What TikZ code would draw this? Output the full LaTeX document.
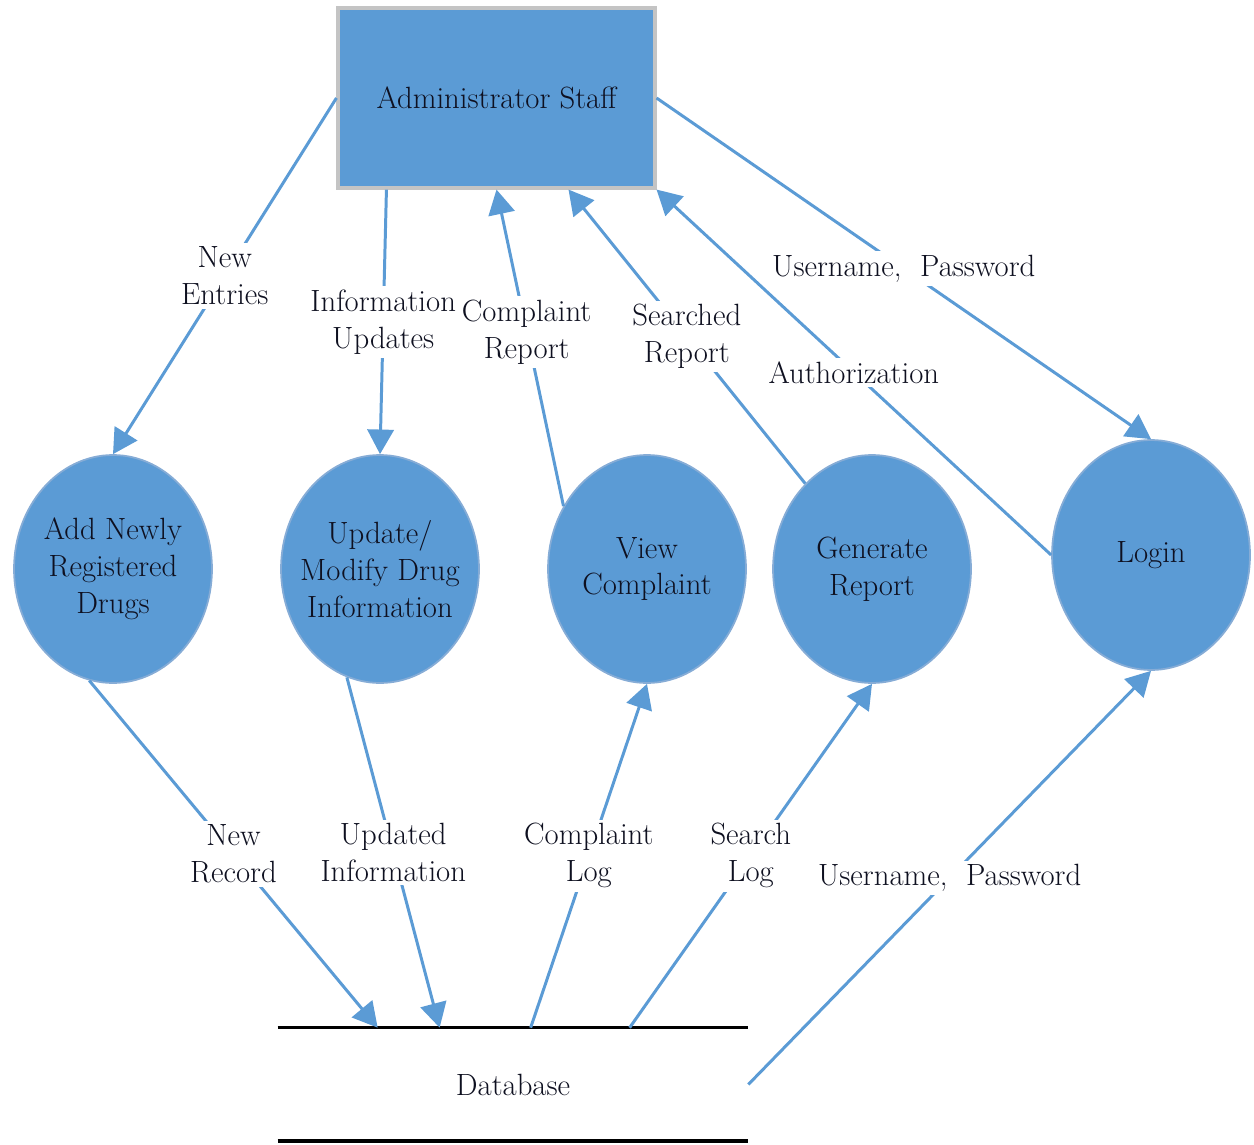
\documentclass[tikz,border=0pt]{standalone}
\usepackage{fontspec}
\usetikzlibrary{arrows.meta,calc,shapes.geometric}
\definecolor{procblue}{HTML}{5B9BD5}
\definecolor{procedge}{HTML}{86ACD6}
\definecolor{boxedge}{HTML}{C4C4C4}
\definecolor{inkdark}{HTML}{0E1020}
\begin{document}
\begin{tikzpicture}[x=0.02cm,y=-0.02cm,
  every node/.style={font=\fontsize{17.5}{21}\selectfont, text=inkdark},
  proc/.style={ellipse, fill=procblue, draw=procedge, line width=1pt,
    minimum width=3.96cm, minimum height=4.56cm, inner sep=-8pt, align=center},
  entity/.style={rectangle, fill=procblue, draw=boxedge, line width=1.8pt,
    minimum width=6.34cm, minimum height=3.6cm},
  flow/.style={draw=procblue, line width=1.7pt, -{Triangle[length=14pt,width=15pt]}},
  lbl/.style={fill=white, inner sep=2pt, align=center, midway}]

\useasboundingbox (0,0) rectangle (1254,1145);

% external entity
\node[entity] (admin) at (496.5,98) {Administrator Staff};

% processes
\node[proc] (add)   at (113,569)  {Add Newly\\Registered\\Drugs};
\node[proc] (upd)   at (380,569)  {Update/\\Modify Drug\\Information};
\node[proc] (view)  at (647,569)  {View\\Complaint};
\node[proc] (gen)   at (872,569)  {Generate\\Report};
\node[proc, minimum height=4.6cm] (login) at (1151,555) {Login};

% data store
\node[minimum width=9.4cm, minimum height=2.26cm, inner sep=0pt] (db) at (513,1084.5) {Database};
\draw[line width=1.8pt] (db.north west) -- (db.north east);
\draw[line width=2.4pt] (db.south west) -- (db.south east);

% data flows
\draw[flow] (admin.west) -- node[lbl]{New\\Entries} (add.north);
\draw[flow] ([xshift=1cm]admin.south west) -- node[lbl]{Information\\Updates} (upd.north);
\draw[flow] (view.143) -- node[lbl, pos=0.55]{Complaint\\Report} (admin.south);
\draw[flow] (gen.128) -- node[lbl]{Searched\\Report} ([xshift=1.44cm]admin.south);
\draw[flow] (login.west) -- node[lbl]{Authorization} (admin.south east);
\draw[flow] (admin.east) -- node[lbl]{Username,\ \ Password} (login.north);
\draw[flow] (add.-102) -- node[lbl]{New\\Record} ([xshift=2cm]db.north west);
\draw[flow] (upd.-107) -- node[lbl]{Updated\\Information} ([xshift=3.24cm]db.north west);
\draw[flow] ([xshift=5.06cm]db.north west) -- node[lbl]{Complaint\\Log} (view.south);
\draw[flow] ([xshift=7.04cm]db.north west) -- node[lbl]{Search\\Log} (gen.south);
\draw[flow] (db.east) -- node[lbl]{Username,\ \ Password} (login.south);
\end{tikzpicture}
\end{document}
